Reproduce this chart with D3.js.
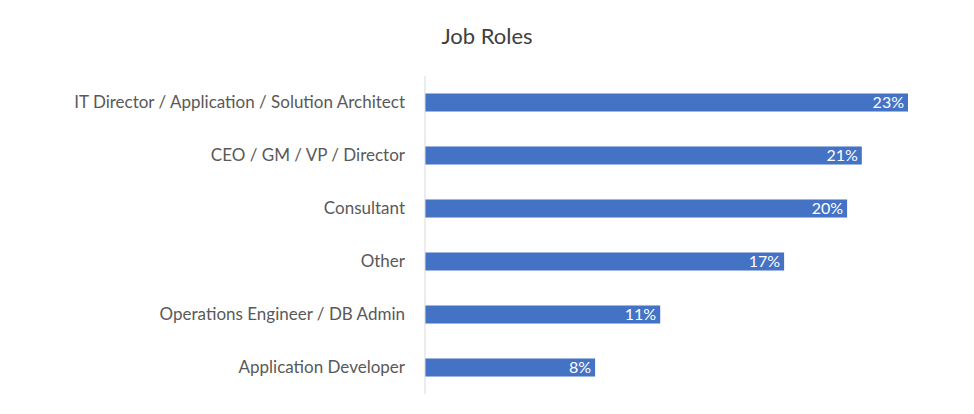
<!DOCTYPE html>
<html>
<head>
<meta charset="utf-8">
<script src="https://cdn.jsdelivr.net/npm/d3@7"></script>
<style>
  body { margin: 0; background: #fff; }
  text { font-family: Lato, "Open Sans", sans-serif; }
</style>
</head>
<body>
<div id="chart"></div>
<script>
const roles = [
  "IT Director / Application / Solution Architect",
  "CEO / GM / VP / Director",
  "Consultant",
  "Other",
  "Operations Engineer / DB Admin",
  "Application Developer"
]
const shares = [23.0, 20.8, 20.1, 17.1, 11.2, 8.1]
const shareLabels = ["23%", "21%", "20%", "17%", "11%", "8%"]

const width = 974, height = 414
const margin = { top: 76, right: 40, bottom: 20, left: 425 }

const svg = d3.select("#chart").append("svg")
    .attr("width", width)
    .attr("height", height)

svg.append("text")
    .attr("x", 487).attr("y", 44)
    .attr("text-anchor", "middle")
    .attr("font-size", 22)
    .attr("fill", "#404040")
    .text("Job Roles")

const x = d3.scaleLinear().domain([0, 23]).range([margin.left, 908])
const y = d3.scaleBand().domain(roles).range([margin.top, 394]).paddingInner(0.66).paddingOuter(0.33)

// bars
svg.selectAll("rect.bar")
    .data(roles)
    .enter().append("rect")
    .attr("class", "bar")
    .attr("x", x(0))
    .attr("y", d => y(d))
    .attr("width", (d, i) => x(shares[i]) - x(0))
    .attr("height", y.bandwidth())
    .attr("fill", "#4472c4")

// value labels
svg.selectAll("text.val")
    .data(roles)
    .enter().append("text")
    .attr("class", "val")
    .attr("x", (d, i) => x(shares[i]) - 4)
    .attr("y", d => y(d) + y.bandwidth() / 2)
    .attr("dy", "0.36em")
    .attr("text-anchor", "end")
    .attr("font-size", 16)
    .attr("fill", "#fff")
    .text((d, i) => shareLabels[i])

// category axis
const yAxis = svg.append("g")
    .attr("transform", `translate(${margin.left},0)`)
    .call(d3.axisLeft(y).tickSize(0).tickPadding(20))
yAxis.select(".domain").attr("stroke", "#d9d9d9").attr("d", `M0,${margin.top}V394`)
yAxis.selectAll("text")
    .attr("font-size", 17)
    .attr("fill", "#595959")
    .style("font-family", "Lato, 'Open Sans', sans-serif")
</script>
</body>
</html>
